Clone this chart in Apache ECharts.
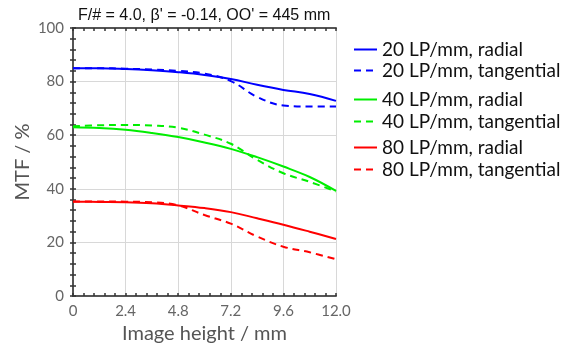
<!DOCTYPE html>
<html>
<head>
<meta charset="utf-8">
<script src="https://cdn.jsdelivr.net/npm/echarts@6/dist/echarts.min.js"></script>
<style>
  html, body { margin: 0; padding: 0; background: #fff; }
  #chart { width: 571px; height: 347px; }
</style>
</head>
<body>
<div id="chart"></div>
<script>
// image height (mm)
const heights = [0, 1.2, 2.4, 3.6, 4.8, 6.0, 7.2, 8.4, 9.6, 10.8, 12.0];

// MTF values (%)
const lp20Radial = [85.0, 85.0, 84.7, 84.2, 83.5, 82.5, 81.0, 78.8, 76.9, 75.4, 72.8];
const lp20Tangential = [85.0, 85.0, 84.8, 84.5, 84.0, 83.0, 80.2, 74.3, 71.1, 70.7, 70.7];
const lp40Radial = [63.0, 62.7, 62.0, 60.8, 59.3, 57.3, 54.9, 51.8, 48.3, 44.4, 39.2];
const lp40Tangential = [63.3, 63.7, 63.8, 63.6, 62.8, 60.2, 56.8, 50.8, 45.8, 42.6, 39.0];
const lp80Radial = [35.2, 35.1, 35.0, 34.6, 33.8, 32.8, 31.3, 29.0, 26.6, 24.0, 21.3];
const lp80Tangential = [35.3, 35.3, 35.2, 35.0, 33.8, 30.2, 27.0, 22.2, 18.4, 16.3, 13.7];

const xTicks = [0, 2.4, 4.8, 7.2, 9.6, 12.0];
const yTicks = [0, 20, 40, 60, 80, 100];

const names = [
    '20 LP/mm, radial', '20 LP/mm, tangential',
    '40 LP/mm, radial', '40 LP/mm, tangential',
    '80 LP/mm, radial', '80 LP/mm, tangential'
];
const colors = ['#0000ff', '#0000ff', '#00ee00', '#00ee00', '#ff0000', '#ff0000'];
const values = [lp20Radial, lp20Tangential, lp40Radial, lp40Tangential, lp80Radial, lp80Tangential];

// legend rows (vertical centre, px)
const legendRows = [46, 67, 96, 118, 144, 166];

const myChart = echarts.init(document.getElementById('chart'));

const labelFont = 'Lato, "DejaVu Sans", sans-serif';

function xAxisDef(pos, showLabel) {
    return {
        type: 'value',
        position: pos,
        min: xTicks[0],
        max: xTicks[xTicks.length - 1],
        interval: 2.4,
        axisLine: { show: true, onZero: false, lineStyle: { color: '#555', width: 2 } },
        axisTick: { show: true, inside: true, length: 3, lineStyle: { color: '#333', width: 1.5 } },
        minorTick: { show: true, splitNumber: 5, length: 3, lineStyle: { color: '#333', width: 1.5 } },
        splitLine: { show: showLabel, lineStyle: { color: '#d8d8d8', width: 1 } },
        axisLabel: {
            show: showLabel,
            color: '#666',
            fontFamily: labelFont,
            fontSize: 15,
            margin: 8,
            formatter: v => v === 0 ? '0' : v.toFixed(1)
        },
        name: showLabel ? 'Image height / mm' : '',
        nameLocation: 'middle',
        nameGap: 24,
        nameTextStyle: { color: '#555', fontFamily: labelFont, fontSize: 20 }
    };
}

function yAxisDef(pos, showLabel) {
    return {
        type: 'value',
        position: pos,
        min: yTicks[0],
        max: yTicks[yTicks.length - 1],
        interval: 20,
        axisLine: { show: true, lineStyle: { color: '#555', width: 2 } },
        axisTick: { show: true, inside: true, length: 3, lineStyle: { color: '#333', width: 1.5 } },
        minorTick: { show: true, splitNumber: 5, length: 3, lineStyle: { color: '#333', width: 1.5 } },
        splitLine: { show: showLabel, lineStyle: { color: '#d8d8d8', width: 1 } },
        axisLabel: {
            show: showLabel,
            color: '#666',
            fontFamily: labelFont,
            fontSize: 15,
            margin: 9
        },
        name: showLabel ? 'MTF / %' : '',
        nameLocation: 'middle',
        nameGap: 40,
        nameTextStyle: { color: '#555', fontFamily: labelFont, fontSize: 20 }
    };
}

let series = [];
names.forEach((name, i) => {
    series.push({
        name: name,
        type: 'line',
        smooth: 0.4,
        symbol: 'none',
        data: heights.map((h, j) => [h, values[i][j]]),
        lineStyle: {
            color: colors[i],
            width: 2,
            type: i % 2 === 1 ? [7, 5] : 'solid'
        },
        itemStyle: { color: colors[i] }
    });
});

// one legend per row
let legends = [];
names.forEach((name, i) => {
    legends.push({
        left: 348,
        top: legendRows[i] - 11,
        itemWidth: 23,
        itemHeight: 14,
        itemStyle: { opacity: 0 },
        data: [name],
        textStyle: { color: '#111', fontFamily: labelFont, fontSize: 19 }
    });
});

const option = {
    animation: false,
    title: {
        text: 'F/# = 4.0, β\' = -0.14, OO\' = 445 mm',
        left: 73,
        top: 3,
        textStyle: { color: '#111', fontFamily: '"Liberation Sans", Arial, sans-serif', fontSize: 16, fontWeight: 'normal' }
    },
    grid: { left: 73, right: 235, top: 28, bottom: 51, containLabel: false, outerBoundsMode: 'none' },
    legend: legends,
    xAxis: [xAxisDef('bottom', true), xAxisDef('top', false)],
    yAxis: [yAxisDef('left', true), yAxisDef('right', false)],
    series: series
};

myChart.setOption(option);
</script>
</body>
</html>
